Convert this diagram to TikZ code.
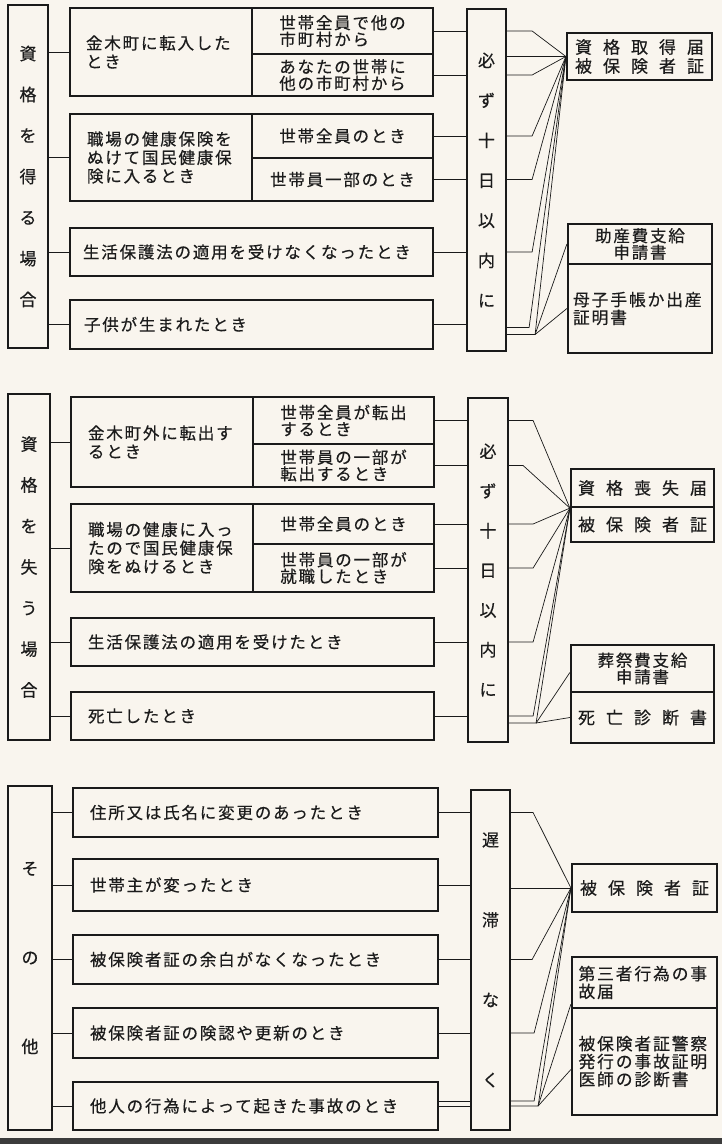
\documentclass[tikz,border=0pt]{standalone}
\usepackage{fontspec}
\newfontfamily\jp[LetterSpace=11,FakeBold=0.4]{Noto Sans CJK JP}
\newfontfamily\jpn[FakeBold=0.4]{Noto Sans CJK JP}
\usetikzlibrary{calc}
\definecolor{bg}{HTML}{F9F5EE}
\definecolor{ink}{HTML}{1A1A1A}
\definecolor{txt}{HTML}{1C1C1C}
\newcommand{\sprd}[1]{\makebox[129pt][s]{#1}}
\tikzset{
 bx/.style={draw=ink, line width=2.2pt, inner sep=0pt, text=txt, align=left, font=\jp\fontsize{16.5}{18.5}\selectfont},
 sub/.style={bx, font=\jp\fontsize{16.5}{16.6}\selectfont},
 rbx/.style={bx, align=center, font=\jp\fontsize{16.5}{16.6}\selectfont},
 rtx/.style={bx, font=\jp\fontsize{16.8}{17.8}\selectfont},
 sbx/.style={bx, align=center, font=\jpn\fontsize{17}{19}\selectfont},
 col/.style={bx, align=center, font=\jpn\fontsize{17}{41}\selectfont},
 wire/.style={draw=ink, line width=0.7pt},
}
\begin{document}
\begin{tikzpicture}[x=1pt,y=-1pt]
\fill[bg] (0,0) rectangle (722,1144);
\useasboundingbox (0,0) rectangle (722,1144);
\fill[ink!85] (0,1138) rectangle (722,1144);

% ---------------- Section 1 ----------------
\node[col, minimum width=40pt, minimum height=343pt] (L1) at (28,176.5) {資\\格\\を\\得\\る\\場\\合};
\node[bx, minimum width=182pt, minimum height=88pt, text width=150pt] (A1) at (161,52) {金木町に転入した\\とき};
\node[sub, minimum width=181pt, minimum height=46pt] (S11) at (342.5,31) {世帯全員で他の\\市町村から};
\node[sub, minimum width=181pt, minimum height=42pt] (S12) at (342.5,75) {あなたの世帯に\\他の市町村から};
\node[bx, minimum width=182pt, minimum height=87pt, text width=148pt] (A2) at (161,157.5) {職場の健康保険を\\ぬけて国民健康保\\険に入るとき};
\node[sub, minimum width=181pt, minimum height=44pt] (S13) at (342.5,136) {世帯全員のとき};
\node[sub, minimum width=181pt, minimum height=43pt] (S14) at (342.5,179.5) {世帯員一部のとき};
\node[bx, minimum width=363pt, minimum height=48pt, text width=337pt] (B13) at (251.5,252) {生活保護法の適用を受けなくなったとき};
\node[bx, minimum width=363pt, minimum height=49pt, text width=335pt] (B14) at (251.5,324.5) {子供が生まれたとき};
\node[col, font=\jpn\fontsize{17}{40}\selectfont, minimum width=39pt, minimum height=342pt] (M1) at (486.5,180) {必\\ず\\十\\日\\以\\内\\に};
\node[sbx, minimum width=145pt, minimum height=47pt] (R1a) at (639.5,56.5) {\sprd{資\hfill 格\hfill 取\hfill 得\hfill 届}\\\sprd{被\hfill 保\hfill 険\hfill 者\hfill 証}};
\node[rbx, minimum width=144pt, minimum height=40pt] (R1b) at (640,244) {助産費支給\\申請書};
\node[rtx, minimum width=144pt, minimum height=89pt, text width=134pt] (R1c) at (640,308.5) {母子手帳か出産\\証明書};

\foreach \b in {A1,A2,B13,B14} \draw[wire] (L1.east |- \b.west) -- (\b.west);
\foreach \b in {S11,S12,S13,S14,B13,B14} \draw[wire] (\b.east) -- (\b.east -| M1.west);
\foreach \b in {S11,S12,S13,S14,B13} \draw[wire] (\b.east -| M1.east) -- ++(25,0) -- (R1a.west);
\draw[wire] (M1.east |- R1a.west) -- (R1a.west);
\draw[wire] ($(B14.east -| M1.east)+(0,3)$) -- ++(22,0) -- (R1a.west);
\coordinate (J1) at ($(B14.east -| M1.east)+(28,10)$);
\draw[wire] ($(B14.east -| M1.east)+(0,10)$) -- (J1) -- (R1a.west);
\draw[wire] (J1) -- (R1b.west);
\draw[wire] (J1) -- (R1c.west);

% ---------------- Section 2 ----------------
\node[col, minimum width=42pt, minimum height=346pt] (L2) at (29,567) {資\\格\\を\\失\\う\\場\\合};
\node[bx, minimum width=182pt, minimum height=90pt, text width=148pt] (A3) at (162,442) {金木町外に転出す\\るとき};
\node[sub, minimum width=181pt, minimum height=47pt] (S21) at (343.5,420.5) {世帯全員が転出\\するとき};
\node[sub, minimum width=181pt, minimum height=43pt] (S22) at (343.5,465.5) {世帯員の一部が\\転出するとき};
\node[bx, minimum width=182pt, minimum height=88pt, text width=148pt] (A4) at (162,548) {職場の健康に入っ\\たので国民健康保\\険をぬけるとき};
\node[sub, minimum width=181pt, minimum height=40pt] (S23) at (343.5,524) {世帯全員のとき};
\node[sub, minimum width=181pt, minimum height=48pt] (S24) at (343.5,568) {世帯員の一部が\\就職したとき};
\node[bx, minimum width=363pt, minimum height=48pt, text width=329pt] (B23) at (252.5,642) {生活保護法の適用を受けたとき};
\node[bx, minimum width=363pt, minimum height=48pt, text width=329pt] (B24) at (252.5,716) {死亡したとき};
\node[col, font=\jpn\fontsize{17}{39.7}\selectfont, minimum width=40pt, minimum height=344pt] (M2) at (488,570) {必\\ず\\十\\日\\以\\内\\に};
\node[sbx, minimum width=143pt, minimum height=38pt] (R2a) at (642.5,488) {\sprd{資\hfill 格\hfill 喪\hfill 失\hfill 届}};
\node[sbx, minimum width=143pt, minimum height=35pt] (R2b) at (642.5,524.5) {\sprd{被\hfill 保\hfill 険\hfill 者\hfill 証}};
\node[rbx, minimum width=143pt, minimum height=47pt] (R2c) at (642.5,668.5) {葬祭費支給\\申請書};
\node[sbx, minimum width=143pt, minimum height=51pt] (R2d) at (642.5,717.5) {\sprd{死\hfill 亡\hfill 診\hfill 断\hfill 書}};

\foreach \b in {A3,A4,B23,B24} \draw[wire] (L2.east |- \b.west) -- (\b.west);
\foreach \b in {S21,S22,S23,S24,B23,B24} \draw[wire] (\b.east) -- (\b.east -| M2.west);
\foreach \b in {S21,S23,S24,B23,B24} \draw[wire] (\b.east -| M2.east) -- ++(24,0) -- (R2a.south west);
\draw[wire] (S22.east -| M2.east) -- ++(14,0) -- (R2a.south west);
\coordinate (J2) at ($(B24.east -| M2.east)+(27,7)$);
\draw[wire] ($(B24.east -| M2.east)+(0,7)$) -- (J2) -- (R2a.south west);
\draw[wire] (J2) -- ([yshift=-4pt]R2c.west);
\draw[wire] (J2) -- (R2d.west);

% ---------------- Section 3 ----------------
\node[col, font=\jpn\fontsize{17}{89}\selectfont, minimum width=44pt, minimum height=344pt] (L3) at (30,958) {そ\\の\\他};
\node[bx, minimum width=365pt, minimum height=49pt, text width=331pt] (B31) at (255.5,812.5) {住所又は氏名に変更のあったとき};
\node[bx, minimum width=365pt, minimum height=52pt, text width=331pt] (B32) at (255.5,885) {世帯主が変ったとき};
\node[bx, minimum width=365pt, minimum height=49pt, text width=331pt] (B33) at (255.5,959.5) {被保険者証の余白がなくなったとき};
\node[bx, minimum width=365pt, minimum height=50pt, text width=331pt] (B34) at (255.5,1033) {被保険者証の険認や更新のとき};
\node[bx, minimum width=365pt, minimum height=48pt, text width=331pt] (B35) at (255.5,1106) {他人の行為によって起きた事故のとき};
\node[col, font=\jpn\fontsize{17}{80}\selectfont, minimum width=39pt, minimum height=340pt] (M3) at (490.5,960) {遅\\滞\\な\\く};
\node[sbx, minimum width=145pt, minimum height=48pt] (R3a) at (644.5,888) {\sprd{被\hfill 保\hfill 険\hfill 者\hfill 証}};
\node[rtx, minimum width=145pt, minimum height=51pt, text width=132pt] (R3b) at (644.5,982.5) {第三者行為の事\\故届};
\node[rtx, minimum width=145pt, minimum height=107pt, text width=132pt] (R3c) at (644.5,1061.5) {被保険者証警察\\発行の事故証明\\医師の診断書};

\foreach \b in {B31,B32,B33,B34,B35} \draw[wire] (L3.east |- \b.west) -- (\b.west);
\foreach \b in {B31,B32,B33,B34,B35} \draw[wire] (\b.east) -- (\b.east -| M3.west);
\draw[wire] ($(B35.east)+(0,-5)$) -- ($(B35.east -| M3.west)+(0,-5)$);
\draw[wire] (B31.east -| M3.east) -- ++(22,0) -- (R3a.west);
\draw[wire] (M3.east |- R3a.west) -- (R3a.west);
\draw[wire] (B33.east -| M3.east) -- ++(21,0) -- (R3a.west);
\draw[wire] (B34.east -| M3.east) -- ++(23,0) -- (R3a.west);
\draw[wire] ($(B35.east -| M3.east)+(0,-5)$) -- ++(23,0) -- (R3a.west);
\coordinate (J3) at ($(B35.east -| M3.east)+(27,0)$);
\draw[wire] (B35.east -| M3.east) -- (J3) -- (R3a.west);
\draw[wire] (J3) -- ([yshift=5pt]R3b.south west);
\draw[wire] (J3) -- ([yshift=-8pt]R3c.west);
\end{tikzpicture}
\end{document}
